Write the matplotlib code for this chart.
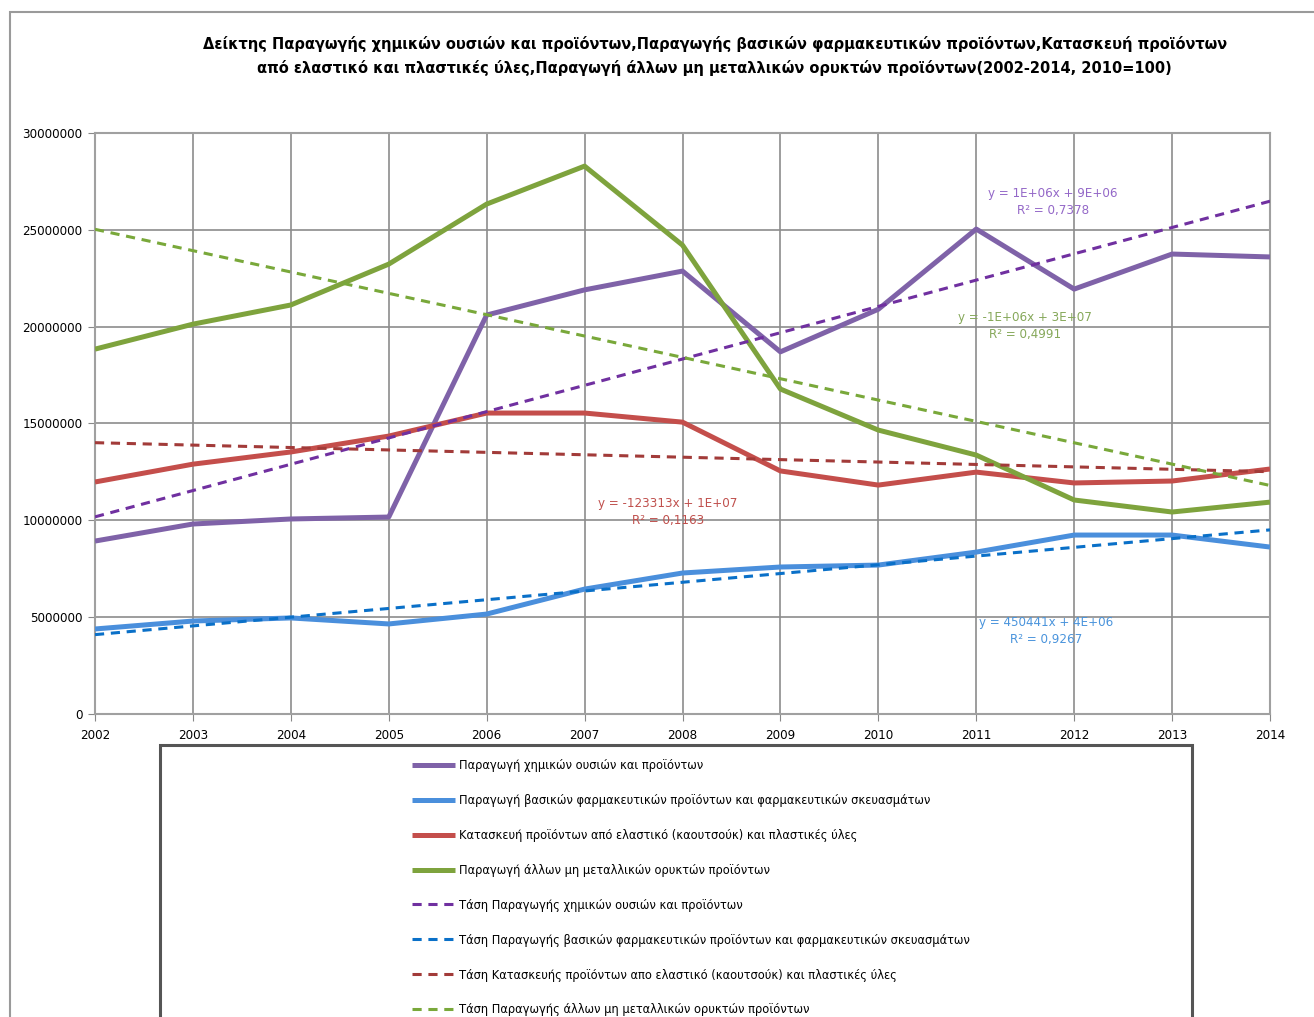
import numpy as np
import matplotlib
matplotlib.use('Agg')
from matplotlib import pyplot as plt
from matplotlib.patches import Rectangle

# Data
years = np.arange(2002, 2015)
chem = [8.93e6, 9.81e6, 10.07e6, 10.17e6, 20.6e6, 21.9e6, 22.87e6, 18.7e6, 20.9e6, 25.04e6, 21.94e6, 23.75e6, 23.6e6]
pharma = [4.39e6, 4.8e6, 4.96e6, 4.65e6, 5.16e6, 6.45e6, 7.28e6, 7.59e6, 7.69e6, 8.36e6, 9.24e6, 9.24e6, 8.62e6]
rubber = [11.98e6, 12.9e6, 13.53e6, 14.35e6, 15.54e6, 15.54e6, 15.07e6, 12.55e6, 11.82e6, 12.49e6, 11.93e6, 12.03e6, 12.65e6]
mineral = [18.84e6, 20.13e6, 21.12e6, 23.23e6, 26.33e6, 28.29e6, 24.21e6, 16.78e6, 14.66e6, 13.37e6, 11.05e6, 10.43e6, 10.94e6]

series_labels = [
    'Παραγωγή χημικών ουσιών και προϊόντων',
    'Παραγωγή βασικών φαρμακευτικών προϊόντων και φαρμακευτικών σκευασμάτων',
    'Κατασκευή προϊόντων από ελαστικό (καουτσούκ) και πλαστικές ύλες',
    'Παραγωγή άλλων μη μεταλλικών ορυκτών προϊόντων',
]
trend_labels = [
    'Τάση Παραγωγής χημικών ουσιών και προϊόντων',
    'Τάση Παραγωγής βασικών φαρμακευτικών προϊόντων και φαρμακευτικών σκευασμάτων',
    'Τάση Κατασκευής προϊόντων απο ελαστικό (καουτσούκ) και πλαστικές ύλες',
    'Τάση Παραγωγής άλλων μη μεταλλικών ορυκτών προϊόντων',
]
eq_texts = [
    'y = 1E+06x + 9E+06\nR² = 0,7378',
    'y = 450441x + 4E+06\nR² = 0,9267',
    'y = -123313x + 1E+07\nR² = 0,1163',
    'y = -1E+06x + 3E+07\nR² = 0,4991',
]
eq_pos = [(2011.78, 26.45e6), (2011.71, 4.3e6), (2007.85, 10.45e6), (2011.5, 20.05e6)]

line_colors = ['#7f62a8', '#4a8fdc', '#c44e4b', '#7ea33d']
trend_colors = ['#7030a0', '#0a70c8', '#a23b39', '#79a83a']
text_colors = ['#9468c8', '#4a94dc', '#c0504d', '#86a85a']

plt.rcParams['font.family'] = ['DejaVu Sans']
plt.rcParams['font.stretch'] = 'condensed'

fig = plt.figure(figsize=(13.14, 10.17), dpi=100)
ax = fig.add_axes([95 / 1314, 1 - 714 / 1017, 1175 / 1314, 581 / 1017])

all_series = [chem, pharma, rubber, mineral]
handles = []
for vals, c in zip(all_series, line_colors):
    h, = ax.plot(years, vals, color=c, lw=3.6, solid_capstyle='butt', zorder=3)
    handles.append(h)

# linear trend lines, fitted on period index like the spreadsheet does
idx = np.arange(1, len(years) + 1)
for vals, c in zip(all_series, trend_colors):
    k, b = np.polyfit(idx, vals, 1)
    h, = ax.plot(years, k * idx + b, color=c, lw=2.2, ls=(0, (3, 2.2)), zorder=4)
    handles.append(h)

for txt, (x, y), c in zip(eq_texts, eq_pos, text_colors):
    ax.text(x, y, txt, color=c, fontsize=9.5, ha='center', va='center', linespacing=1.4, zorder=5)

ax.set_xlim(2002, 2014)
ax.set_ylim(0, 30e6)
ax.set_xticks(years)
ax.set_yticks(np.arange(0, 30e6 + 1, 5e6))
ax.set_yticklabels([str(int(v)) for v in np.arange(0, 30e6 + 1, 5e6)])
ax.grid(True, color='#8c8c8c', lw=1.2)
for s in ax.spines.values():
    s.set_color('#a0a0a0')
    s.set_linewidth(1.5)
ax.tick_params(axis='both', labelsize=9.5, color='#888888', length=5, direction='out')
ax.tick_params(axis='x', pad=6)
ax.tick_params(axis='y', pad=4)

fig.text(0.544, 1 - 44 / 1017,
         'Δείκτης Παραγωγής χημικών ουσιών και προϊόντων,Παραγωγής βασικών φαρμακευτικών προϊόντων,Κατασκευή προϊόντων',
         ha='center', va='center', fontsize=11.7, fontweight='bold')
fig.text(0.544, 1 - 68 / 1017,
         'από ελαστικό και πλαστικές ύλες,Παραγωγή άλλων μη μεταλλικών ορυκτών προϊόντων(2002-2014, 2010=100)',
         ha='center', va='center', fontsize=11.7, fontweight='bold')

# outer chart frame and legend box
fig.patches.append(Rectangle((10 / 1314, -0.1), 1.2, 1.1 - 12 / 1017, transform=fig.transFigure,
                             fill=False, ec='#9a9a9a', lw=1.5))
fig.patches.append(Rectangle((160 / 1314, -0.1), 1032 / 1314, 0.1 + 1 - 745 / 1017, transform=fig.transFigure,
                             fill=False, ec='#555555', lw=2.2))

fig.legend(handles, series_labels + trend_labels, loc='upper left',
           bbox_to_anchor=(400 / 1314, 1 - 748 / 1017), frameon=False,
           fontsize=9.2, handlelength=3.4, handletextpad=0.3, labelspacing=1.71)

fig.savefig('out.png', dpi=100)
